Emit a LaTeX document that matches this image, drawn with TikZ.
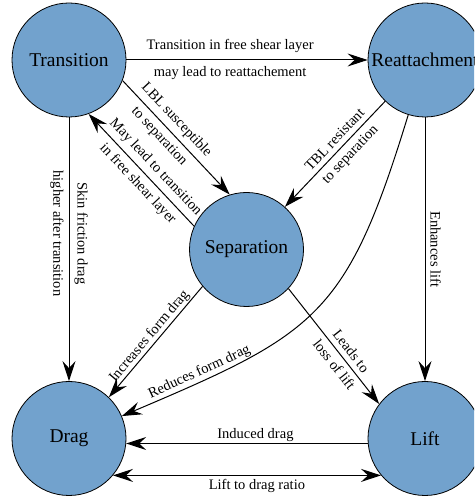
\documentclass[tikz,border=0pt]{standalone}
\usepackage{fontspec}
\setmainfont{Liberation Serif}
\usetikzlibrary{arrows.meta}
\definecolor{nodeblue}{RGB}{114,162,205}
\tikzset{
  state/.style={circle, draw=black, line width=0.8pt, fill=nodeblue, minimum size=114pt, inner sep=0pt, font=\fontsize{19.5}{22}\selectfont},
  edge/.style={line width=1pt, -{Stealth[length=20pt,width=13pt,inset=7pt]}},
  biedge/.style={line width=1pt, {Stealth[length=20pt,width=13pt,inset=7pt]}-{Stealth[length=20pt,width=13pt,inset=7pt]}},
  lab/.style={font=\fontsize{14.5}{16}\selectfont, inner sep=5pt}
}
\begin{document}
\begin{tikzpicture}[x=1pt,y=1pt]
\clip (0,0) rectangle (474,497);
\node[state] (T) at (69,437) {Transition};
\node[state] (R) at (425,437) {Reattachment};
\node[state] (S) at (246.5,247.5) {Separation};
\node[state] (D) at (69,58.5) {Drag};
\node[state] (L) at (425,58.5) {Lift};

\draw[edge] (T) -- (R)
  node[lab, pos=0.43, above, inner sep=7pt] {Transition in free shear layer}
  node[lab, pos=0.43, below, inner sep=6pt] {may lead to reattachement};
\draw[edge] (T.-21) -- (S.107)
  node[lab, pos=0.42, sloped, above] {LBL susceptible}
  node[lab, pos=0.42, sloped, below] {to separation};
\draw[edge] (S.156) -- (T.290)
  node[lab, pos=0.45, sloped, above] {May lead to transition}
  node[lab, pos=0.45, sloped, below] {in free shear layer};
\draw[edge] (T) -- (D)
  node[lab, pos=0.44, sloped, above] {Skin friction drag}
  node[lab, pos=0.44, sloped, below] {higher after transition};
\draw[edge] (R.226) -- (S.48)
  node[lab, pos=0.43, sloped, above] {TBL resistant}
  node[lab, pos=0.43, sloped, below] {to separation};
\draw[edge] (R) to[out=253, in=23, looseness=1.3]
  node[lab, pos=0.84, sloped, above, inner sep=2pt] {Reduces form drag} (D);
\draw[edge] (R) -- (L)
  node[lab, pos=0.5, sloped, above] {Enhances lift};
\draw[edge] (S.-43) -- (L.143)
  node[lab, pos=0.6, sloped, above] {Leads to}
  node[lab, pos=0.6, sloped, below] {loss of lift};
\draw[edge] (S.220) -- (D.46)
  node[lab, pos=0.5, sloped, above, inner sep=1pt] {Increases form drag};
\draw[edge] (L.185.5) -- (D.-5.5)
  node[lab, pos=0.465, above, inner sep=1.5pt] {Induced drag};
\draw[biedge] (D.-40) -- (L.220)
  node[lab, pos=0.537, below, inner sep=3pt] {Lift to drag ratio};
\end{tikzpicture}
\end{document}
